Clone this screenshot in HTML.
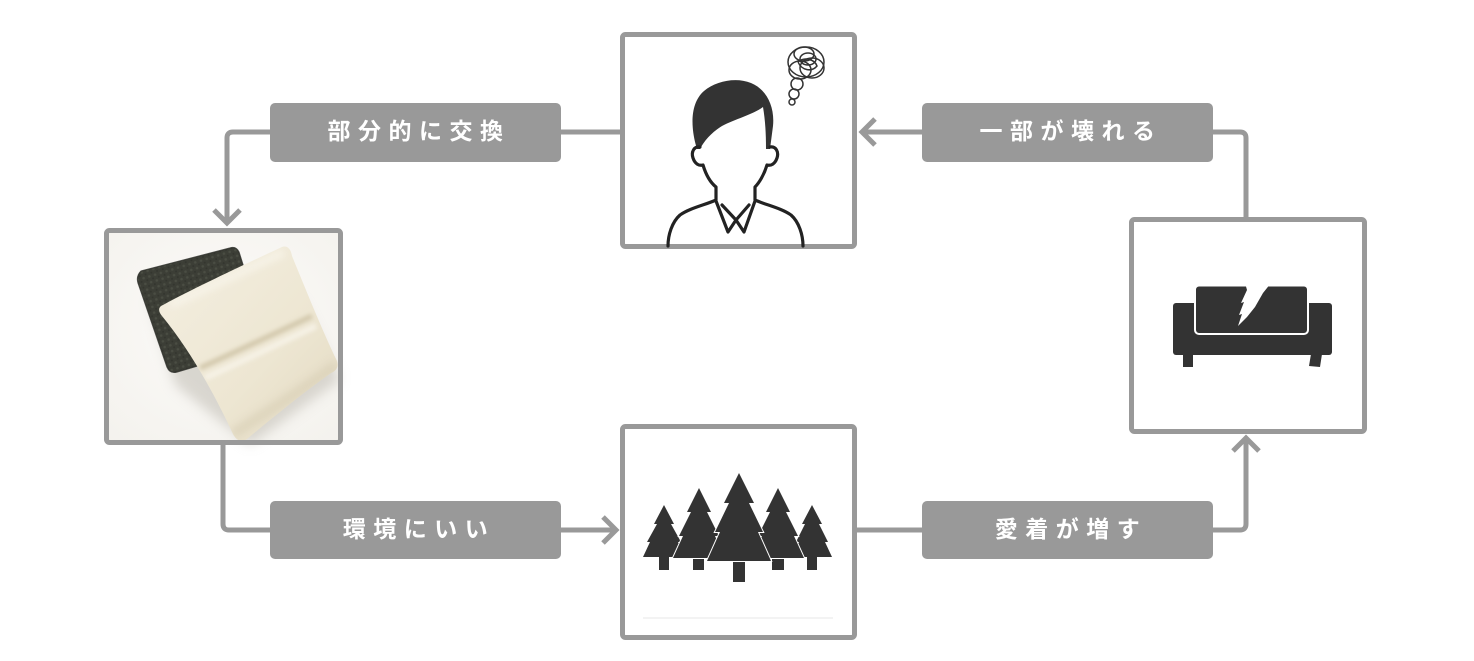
<!DOCTYPE html>
<html>
<head>
<meta charset="utf-8">
<style>
  html,body{margin:0;padding:0;background:#fff;}
  svg{display:block;}
  .lbl{font-family:"Liberation Sans","Noto Sans CJK JP",sans-serif;font-weight:700;font-size:23px;letter-spacing:7.5px;fill:#fff;}
</style>
</head>
<body>
<svg width="1474" height="661" viewBox="0 0 1474 661" xmlns="http://www.w3.org/2000/svg">
  <defs>
    <linearGradient id="pil" x1="0" y1="0" x2="1" y2="1">
      <stop offset="0" stop-color="#f4efe1"/>
      <stop offset="0.6" stop-color="#ede6d2"/>
      <stop offset="1" stop-color="#e2d9c1"/>
    </linearGradient>
    <radialGradient id="bg" cx="0.5" cy="0.45" r="0.8">
      <stop offset="0" stop-color="#fcfbf9"/>
      <stop offset="1" stop-color="#f3f1ec"/>
    </radialGradient>
    <filter id="blur" x="-30%" y="-30%" width="160%" height="160%">
      <feGaussianBlur stdDeviation="6"/>
    </filter>
    <filter id="blur2" x="-30%" y="-30%" width="160%" height="160%">
      <feGaussianBlur stdDeviation="2"/>
    </filter>
    <filter id="blur4" x="-30%" y="-30%" width="160%" height="160%">
      <feGaussianBlur stdDeviation="4"/>
    </filter>
    <pattern id="knit" width="6" height="6" patternUnits="userSpaceOnUse" patternTransform="rotate(-17)">
      <rect width="6" height="6" fill="#3c3e36"/>
      <circle cx="2" cy="2" r="1.3" fill="#4a4d43"/>
      <circle cx="5" cy="5" r="1" fill="#33352e"/>
    </pattern>
    <clipPath id="pclip">
      <path d="M163,305 C200,285 250,262 282,247 C288,245 291,250 292,256 C306,290 322,330 337,361 C339,367 336,371 331,373 C300,395 270,420 247,439 C241,443 236,440 233,434 C215,395 190,350 162,316 C158,311 158,307 163,305 Z"/>
    </clipPath>
  </defs>

  <!-- ===== connectors ===== -->
  <g fill="none" stroke="#999" stroke-width="5">
    <path d="M561,132 H622"/>
    <path d="M272,132 H233 Q227,132 227,138 V223"/>
    <path d="M214,210 L227,223 L240,210"/>
    <path d="M223,443 V524 Q223,530 229,530 H272"/>
    <path d="M559,530 H615"/>
    <path d="M603,517 L616,530 L603,543"/>
    <path d="M855,530 H924"/>
    <path d="M1211,530 H1240 Q1246,530 1246,524 V438"/>
    <path d="M1233,451 L1246,438 L1259,451"/>
    <path d="M1246,219 V138 Q1246,132 1240,132 H1211"/>
    <path d="M924,132 H862"/>
    <path d="M875,119 L862,132 L875,145"/>
  </g>

  <!-- ===== labels ===== -->
  <rect x="270" y="103" width="291" height="59" rx="5" fill="#999"/>
  <rect x="922" y="103" width="291" height="59" rx="5" fill="#999"/>
  <rect x="270" y="501" width="291" height="58" rx="5" fill="#999"/>
  <rect x="922" y="501" width="291" height="58" rx="5" fill="#999"/>
  <text class="lbl" x="419" y="131" text-anchor="middle" dominant-baseline="central">部分的に交換</text>
  <text class="lbl" x="1071" y="131" text-anchor="middle" dominant-baseline="central">一部が壊れる</text>
  <text class="lbl" x="419" y="529" text-anchor="middle" dominant-baseline="central">環境にいい</text>
  <text class="lbl" x="1071" y="529" text-anchor="middle" dominant-baseline="central">愛着が増す</text>

  <!-- ===== pillow box (photo) ===== -->
  <rect x="106.5" y="230.5" width="234" height="212" rx="3" fill="url(#bg)"/>
  <path d="M150,300 L175,385 L250,445 L340,380 L300,300 Z" fill="#b9b5ab" opacity="0.5" filter="url(#blur)"/>
  <!-- dark cushion -->
  <path d="M141,271 Q136,276 138,283 L167,367 Q170,374 177,372 L268,345 L239,252 Q236,246 230,248 Z" fill="url(#knit)"/>
  <path d="M141,271 Q136,276 138,283 L167,367 Q170,374 177,372 L268,345 L239,252 Q236,246 230,248 Z" fill="none" stroke="#2e302a" stroke-width="1.2" opacity="0.8"/>
  <!-- cream pillow -->
  <path d="M163,305 C200,285 250,262 282,247 C288,245 291,250 292,256 C306,290 322,330 337,361 C339,367 336,371 331,373 C300,395 270,420 247,439 C241,443 236,440 233,434 C215,395 190,350 162,316 C158,311 158,307 163,305 Z" fill="url(#pil)"/>
  <g clip-path="url(#pclip)">
    <path d="M200,368 C240,350 278,332 312,316" fill="none" stroke="#d2c7ab" stroke-width="5" filter="url(#blur2)"/>
    <path d="M205,378 C245,360 282,342 316,326" fill="none" stroke="#f8f4ea" stroke-width="6" opacity="0.8" filter="url(#blur2)"/>
    <path d="M233,434 C270,410 300,392 336,365" fill="none" stroke="#d6ccb2" stroke-width="10" opacity="0.6" filter="url(#blur4)"/>
    <path d="M170,305 C210,287 250,268 284,252" fill="none" stroke="#faf7ee" stroke-width="8" opacity="0.7" filter="url(#blur4)"/>
  </g>
  <rect x="106.5" y="230.5" width="234" height="212" rx="3" fill="none" stroke="#999" stroke-width="5"/>

  <!-- ===== person box ===== -->
  <rect x="622.5" y="34.5" width="232" height="212" rx="3" fill="#fff" stroke="#999" stroke-width="5"/>
  <path d="M697,149 C691,130 689,104 704,91 C716,81 736,77 751,83 C766,89 775,106 773,126 L770,149 L766,149 C766,131 765,119 763,107 C752,115 735,119 722,126 C712,132 704,141 700,149 Z" fill="#333"/>
  <g fill="none" stroke="#222" stroke-width="3.2" stroke-linejoin="round" stroke-linecap="round">
    <path d="M700,147 C694,146 691,152 693,158 C695,164 699,166 703,165 C706,175 711,183 716,187 L716,200 C705,205 690,208 680,215 C672,222 668,235 668,246"/>
    <path d="M770,147 C776,146 779,152 777,158 C775,164 771,166 767,165 C764,175 759,183 755,187 L755,200 C766,205 781,208 791,215 C799,222 803,235 803,246"/>
    <path d="M716,201 L728,232 L736,220 L744,232 L755,201"/>
    <path d="M722,205 L736,220 L749,205"/>
  </g>
  <g fill="none" stroke="#333" stroke-width="1.5">
    <ellipse cx="806" cy="62" rx="18" ry="15"/>
    <ellipse cx="812" cy="68" rx="12" ry="10"/>
    <ellipse cx="800" cy="70" rx="11" ry="9"/>
    <ellipse cx="808" cy="59" rx="8" ry="6"/>
    <ellipse cx="804" cy="54" rx="10" ry="7"/>
    <path d="M798,62 C805,56 815,60 817,66 C812,72 802,71 798,62"/>
    <circle cx="797" cy="84" r="6"/>
    <circle cx="794" cy="94" r="5"/>
    <circle cx="792" cy="102" r="3"/>
  </g>

  <!-- ===== tree box ===== -->
  <rect x="622.5" y="426.5" width="232" height="211" rx="3" fill="#fff" stroke="#999" stroke-width="5"/>
  <line x1="643" y1="618" x2="833" y2="618" stroke="#efefef" stroke-width="1.5"/>
  <g fill="#333">
    <rect x="659" y="550" width="10" height="20"/>
    <polygon points="664,505 674,524 671,524 681,542 678,542 685,557 643,557 650,542 647,542 657,524 654,524"/>
    <rect x="807" y="550" width="10" height="20"/>
    <polygon points="812,505 822,524 819,524 828,542 825,542 832,557 792,557 799,542 796,542 805,524 802,524"/>
  </g>
  <g fill="#333" stroke="#fff" stroke-width="2" paint-order="stroke">
    <rect x="693" y="550" width="11" height="20"/>
    <polygon points="699,488 711,512 707,512 719,536 715,536 725,558 673,558 683,536 679,536 691,512 687,512"/>
    <rect x="772" y="550" width="12" height="20"/>
    <polygon points="778,488 790,512 786,512 798,536 794,536 804,558 752,558 762,536 758,536 770,512 766,512"/>
    <rect x="733" y="552" width="12" height="30"/>
    <polygon points="739,473 754,503 749,503 763,532 758,532 771,561 707,561 720,532 715,532 729,503 724,503"/>
  </g>

  <!-- ===== sofa box ===== -->
  <rect x="1131.5" y="219.5" width="233" height="212" rx="3" fill="#fff" stroke="#999" stroke-width="5"/>
  <g fill="#333">
    <rect x="1173" y="303" width="159" height="52" rx="3"/>
    <rect x="1183" y="354" width="10" height="13"/>
    <polygon points="1311,354 1322,354 1320,367 1309,366"/>
  </g>
  <rect x="1195" y="285.5" width="113" height="48.5" rx="4" fill="#333" stroke="#fff" stroke-width="2"/>
  <polygon points="1245,283 1271,283 1263,293 1255,307 1247,317 1238,326 1242,314 1239,315 1244,302 1241,303 1247,290" fill="#fff"/>
</svg>
</body>
</html>
